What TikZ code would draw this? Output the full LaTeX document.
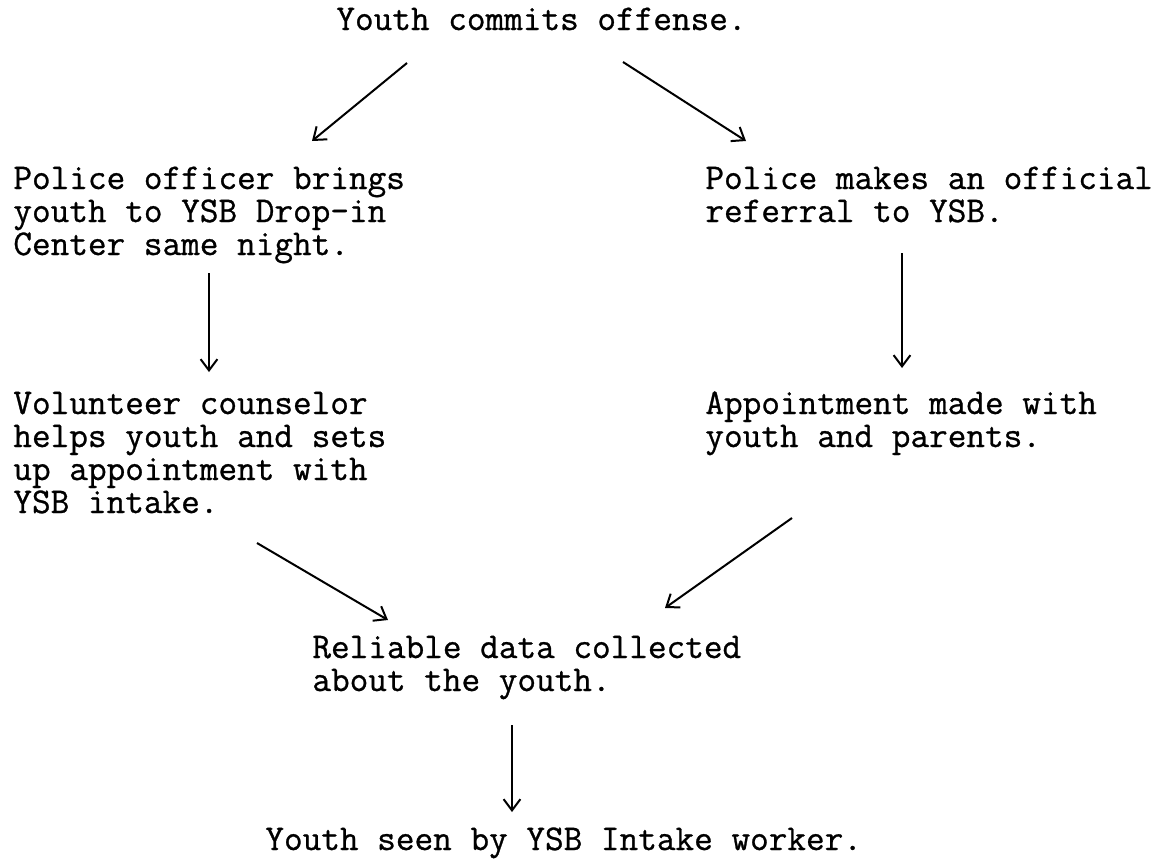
\documentclass[tikz,border=0pt]{standalone}
\usepackage{fontspec}
\newfontfamily\typefont{Latin Modern Mono}[FakeBold=0.8]
\usetikzlibrary{arrows.meta}
\tikzset{
  txt/.style = {align=left, inner sep=0pt, anchor=base west,
    font=\typefont\fontsize{18.1}{16.5}\selectfont},% typed text, anchored at its last line
  flow/.style = {->, line width=1pt}% plain arrow
}

\begin{document}
\begin{tikzpicture}[x=0.5pt,y=-0.5pt,>={Straight Barb[length=5.6pt,width=8.4pt]}]
\useasboundingbox (0,0) rectangle (1174,868);

\node[txt] (offense) at (336,30) {Youth commits offense.};
\node[txt] (officer) at (13,255) {Police officer brings\\youth to YSB Drop-in\\Center same night.};
\node[txt] (referral) at (705,222) {Police makes an official\\referral to YSB.};
\node[txt] (counsel) at (13,513) {Volunteer counselor\\helps youth and sets\\up appointment with\\YSB intake.};
\node[txt] (appt) at (705,447) {Appointment made with\\youth and parents.};
\node[txt] (data) at (312,691) {Reliable data collected\\about the youth.};
\node[txt] (intake) at (265,850) {Youth seen by YSB Intake worker.};

\draw[flow] ([shift={(71,33)}]offense.base west) -- ([shift={(299,-114)}]officer.base west);
\draw[flow] ([shift={(287,32)}]offense.base west) -- ([shift={(41,-81)}]referral.base west);
\draw[flow] ([shift={(196,18)}]officer.base west) -- ([shift={(196,-141)}]counsel.base west);
\draw[flow] ([shift={(197,31)}]referral.base west) -- ([shift={(197,-79)}]appt.base west);
\draw[flow] ([shift={(244,30)}]counsel.base west) -- ([shift={(76,-71)}]data.base west);
\draw[flow] ([shift={(87,71)}]appt.base west) -- ([shift={(353,-83)}]data.base west);
\draw[flow] ([shift={(200,34)}]data.base west) -- ([shift={(247,-38)}]intake.base west);
\end{tikzpicture}
\end{document}
